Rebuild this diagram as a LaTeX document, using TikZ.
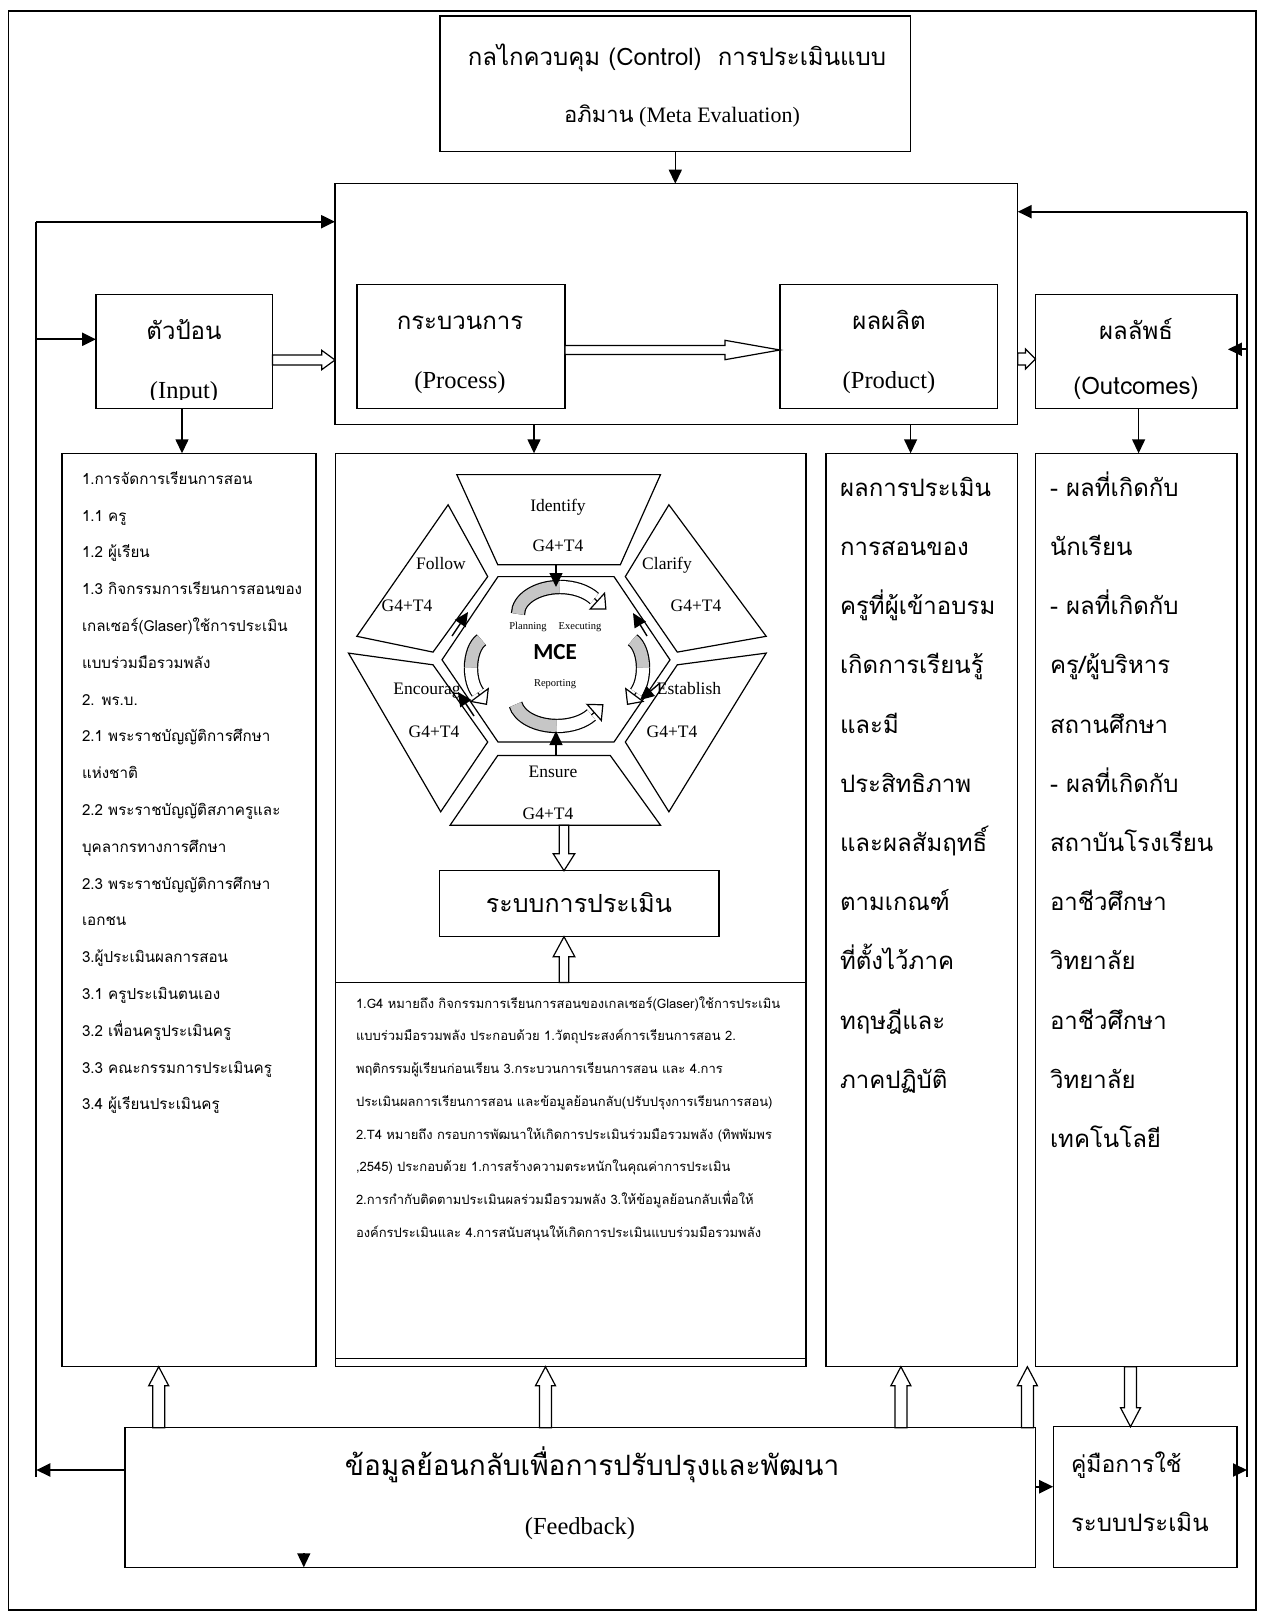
\documentclass[tikz,border=0pt]{standalone}
\usepackage{fontspec}
\setmainfont{Liberation Serif}
\newfontfamily\thaifont[Script=Thai]{Loma}
\newfontfamily\mcefont{Carlito}
\usetikzlibrary{arrows.meta,calc}
\tikzset{
  bx/.style={draw, line width=1.4bp, inner sep=0pt, outer sep=0pt, anchor=north west},
  tx/.style={inner sep=0pt, outer sep=0pt},
  thai/.style={tx, font=\thaifont\fontsize{#1bp}{#1bp}\selectfont},
  ser/.style={tx, font=\fontsize{#1bp}{#1bp}\selectfont},
  arr/.style={-{Triangle[length=14bp,width=13bp]}},
  lp/.style={line width=2.2bp},
  tn/.style={line width=1.4bp},
  hol/.style={line width=1.2bp, fill=white},
  hexs/.style={draw, line width=1.2bp},
  cyc/.style={line width=1.2bp, double distance=12bp},
  cyctip/.style={line width=1.2bp, -{Triangle[length=13bp,width=24bp,fill=white]}},
  hollow/.style n args={3}{to path={
    let \p1=(\tikztostart), \p2=(\tikztotarget),
        \n1={veclen(\x2-\x1,\y2-\y1)},
        \n2={(\x2-\x1)/\n1}, \n3={(\y2-\y1)/\n1}
    in ({\x1-\n3*#1},{\y1+\n2*#1})
    -- ({\x2-\n2*#3-\n3*#1},{\y2-\n3*#3+\n2*#1})
    -- ({\x2-\n2*#3-\n3*#2},{\y2-\n3*#3+\n2*#2})
    -- (\p2)
    -- ({\x2-\n2*#3+\n3*#2},{\y2-\n3*#3-\n2*#2})
    -- ({\x2-\n2*#3+\n3*#1},{\y2-\n3*#3-\n2*#1})
    -- ({\x1+\n3*#1},{\y1-\n2*#1}) -- cycle}}
}
\begin{document}
\begin{tikzpicture}[x=1bp,y=-1bp]
\useasboundingbox (0,0) rectangle (1262,1622);
\draw[line width=1.4bp] (8.5,11) rectangle (1256,1610);

% ---------- boxes
\node[bx, minimum width=470.6bp, minimum height=135.7bp] (ctrl) at (440,16) {};
\node[bx, minimum width=682.7bp, minimum height=240.8bp] (big) at (335,183.7) {};
\node[bx, minimum width=176.4bp, minimum height=114bp] (inp) at (96,294.3) {};
\node[bx, minimum width=207.9bp, minimum height=124bp] (proc) at (357,284.3) {};
\node[bx, minimum width=217.6bp, minimum height=124bp] (prod) at (780,284.3) {};
\node[bx, minimum width=201.4bp, minimum height=114bp] (out) at (1035.5,294.3) {};
\node[bx, minimum width=253.9bp, minimum height=913.4bp] (lc) at (62,453.3) {};
\node[bx, minimum width=470.6bp, minimum height=913.4bp] (mc) at (335.2,453.3) {};
\node[bx, minimum width=191.7bp, minimum height=913.4bp] (pc) at (826,453.3) {};
\node[bx, minimum width=201.4bp, minimum height=913.4bp] (oc) at (1035.5,453.3) {};
\node[bx, minimum width=910.6bp, minimum height=139.6bp] (fb) at (124.9,1427.7) {};
\node[bx, minimum width=183.7bp, minimum height=140.6bp] (man) at (1053.2,1426.7) {};
\node[bx, minimum width=279.7bp, minimum height=66bp] (sys) at (439.3,870.7) {};
\coordinate (dvw) at (335.2,982.5);
\coordinate (dve) at (805.8,982.5);
\draw[line width=1.4bp] (dvw) -- (dve);
\coordinate (dlw) at (335.2,1358.5);
\coordinate (dle) at (805.8,1358.5);
\draw[line width=1.4bp] (dlw) -- (dle);

% ---------- texts in boxes
\node[thai=24, anchor=mid] (ctrlA) at (677,63) {กลไกควบคุม (Control)~ การประเมินแบบ};
\node[tx, anchor=mid] (ctrlB) at (682,120) {{\thaifont\fontsize{22bp}{22bp}\selectfont อภิมาน}{\fontsize{22bp}{22bp}\selectfont\ (Meta Evaluation)}};
\node[thai=24, anchor=mid] (inpA) at (184,337) {ตัวป้อน};
\begin{scope}
\clip (inp.north west) rectangle (272,399);
\node[ser=24.5, anchor=mid] (inpB) at (184,396) {(Input)};
\end{scope}
\node[thai=24, anchor=mid] (procA) at (460,327) {กระบวนการ};
\node[ser=24.5, anchor=mid] (procB) at (460,386) {(Process)};
\node[thai=24, anchor=mid] (prodA) at (889,327) {ผลผลิต};
\node[ser=24.5, anchor=mid] (prodB) at (889,386) {(Product)};
\node[thai=24, anchor=mid] (outA) at (1136,337) {ผลลัพธ์};
\node[thai=24, anchor=mid] (outB) at (1136,392) {(Outcomes)};
\node[thai=25, anchor=mid] (sysT) at (579,910) {ระบบการประเมิน};
\node[thai=28, anchor=mid] (fbA) at (592,1473) {ข้อมูลย้อนกลับเพื่อการปรับปรุงและพัฒนา};
\node[ser=24.5, anchor=mid] (fbB) at (580,1532) {(Feedback)};
\node[thai=23, anchor=mid west] (manA) at (1071,1470) {คู่มือการใช้};
\node[thai=24, anchor=mid west] (manB) at (1071,1529) {ระบบประเมิน};

% left column
\foreach \t [count=\i from 0] in {{1.การจัดการเรียนการสอน},{1.1 ครู},{1.2 ผู้เรียน},{1.3 กิจกรรมการเรียนการสอนของ},{เกลเซอร์(Glaser)ใช้การประเมิน},{แบบร่วมมือรวมพลัง},{2. พร.บ.},{2.1 พระราชบัญญัติการศึกษา},{แห่งชาติ},{2.2 พระราชบัญญัติสภาครูและ},{บุคลากรทางการศึกษา},{2.3 พระราชบัญญัติการศึกษา},{เอกชน},{3.ผู้ประเมินผลการสอน},{3.1 ครูประเมินตนเอง},{3.2 เพื่อนครูประเมินครู},{3.3 คณะกรรมการประเมินครู},{3.4 ผู้เรียนประเมินครู}}
  \node[thai=15.2, anchor=mid west] (l\i) at (82,482+\i*36.8) {\t};
% product column
\foreach \t [count=\i from 0] in {ผลการประเมิน,การสอนของ,ครูที่ผู้เข้าอบรม,เกิดการเรียนรู้,และมี,ประสิทธิภาพ,และผลสัมฤทธิ์,ตามเกณฑ์,ที่ตั้งไว้ภาค,ทฤษฎีและ,ภาคปฏิบัติ}
  \node[thai=24, anchor=mid west] (p\i) at (840,494+\i*59.2) {\t};
% outcomes column
\foreach \t [count=\i from 0] in {- ผลที่เกิดกับ,นักเรียน,- ผลที่เกิดกับ,ครู/ผู้บริหาร,สถานศึกษา,- ผลที่เกิดกับ,สถาบันโรงเรียน,อาชีวศึกษา,วิทยาลัย,อาชีวศึกษา,วิทยาลัย,เทคโนโลยี}
  \node[thai=24, anchor=mid west] (o\i) at (1050,494+\i*59.2) {\t};
% middle text
\foreach \t [count=\i from 0] in {{1.G4 หมายถึง กิจกรรมการเรียนการสอนของเกลเซอร์(Glaser)ใช้การประเมิน},{แบบร่วมมือรวมพลัง ประกอบด้วย 1.วัตถุประสงค์การเรียนการสอน 2.},{พฤติกรรมผู้เรียนก่อนเรียน 3.กระบวนการเรียนการสอน และ 4.การ},{ประเมินผลการเรียนการสอน และข้อมูลย้อนกลับ(ปรับปรุงการเรียนการสอน)},{2.T4 หมายถึง กรอบการพัฒนาให้เกิดการประเมินร่วมมือรวมพลัง (ทิพพัมพร},{,2545) ประกอบด้วย 1.การสร้างความตระหนักในคุณค่าการประเมิน},{2.การกำกับติดตามประเมินผลร่วมมือรวมพลัง 3.ให้ข้อมูลย้อนกลับเพื่อให้},{องค์กรประเมินและ 4.การสนับสนุนให้เกิดการประเมินแบบร่วมมือรวมพลัง}}
  \node[thai=13, anchor=mid west] (m\i) at (356,1006+\i*32.7) {\t};

% ---------- hexagon diagram
\draw[hexs] (456.8,474.6) -- (660.5,474.6) -- (620.3,564.8) -- (497.8,564.8) -- cycle;
\draw[hexs] (498,576.6) -- (614,576.6) -- (670,659.8) -- (614,742) -- (498,742) -- (442,659.8) -- cycle;
\draw[hexs] (448.1,504.8) -- (487.7,576.6) -- (433,652.1) -- (356.8,636.3) -- cycle;
\draw[hexs] (668.9,504.8) -- (766.2,636.3) -- (677.3,652.1) -- (625.3,576.6) -- cycle;
\draw[hexs] (348.5,653.1) -- (433,664.8) -- (487.7,742) -- (440.7,811.8) -- cycle;
\draw[hexs] (766.2,653.1) -- (668.9,811.8) -- (625.3,742) -- (677.3,664.8) -- cycle;
\draw[hexs] (497.8,755.4) -- (610.2,755.4) -- (660.5,825.2) -- (450.1,825.2) -- cycle;

\node[ser=17.5, anchor=mid] (idA) at (558,509) {Identify};
\node[ser=17.5, anchor=mid] (idB) at (558,549) {G4+T4};
\node[ser=17.5, anchor=mid] (foA) at (441,567) {Follow};
\node[ser=17.5, anchor=mid] (foB) at (407,609) {G4+T4};
\node[ser=17.5, anchor=mid] (clA) at (667,567) {Clarify};
\node[ser=17.5, anchor=mid] (clB) at (696,609) {G4+T4};
\node[ser=17.5, anchor=mid] (enA) at (427,692) {Encourag};
\node[ser=17.5, anchor=mid] (enB) at (434,735) {G4+T4};
\node[ser=17.5, anchor=mid] (esA) at (689,692) {Establish};
\node[ser=17.5, anchor=mid] (esB) at (672,735) {G4+T4};
\node[ser=17.5, anchor=mid] (suA) at (553,775) {Ensure};
\node[ser=17.5, anchor=mid] (suB) at (548,817) {G4+T4};
\node[tx, font=\mcefont\bfseries\fontsize{23bp}{23bp}\selectfont, anchor=mid] (mce) at (555,657) {MCE};
\node[ser=10.5, anchor=mid] (pl) at (528,627) {Planning};
\node[ser=10.5, anchor=mid] (ex) at (580,627) {Executing};
\node[ser=10.5, anchor=mid] (rp) at (555,684) {Reporting};

% cycle arrows
\draw[cyc, double=gray!45] (518,614) arc[start angle=180, end angle=270, x radius=42, y radius=27];
\draw[cyc, double=white] (560,587) arc[start angle=270, end angle=325, x radius=42, y radius=27];
\coordinate (t1a) at (594.4,598.5); \coordinate (t1b) at (606.5,609.5);
\draw[cyctip] (t1a) -- (t1b);
\draw[cyc, double=gray!45] (481.5,639.8) arc[start angle=250, end angle=180, x radius=16, y radius=30];
\draw[cyc, double=white] (471,668) arc[start angle=180, end angle=125, x radius=16, y radius=30];
\coordinate (t2a) at (477.8,692.6); \coordinate (t2b) at (487,705);
\draw[cyctip] (t2a) -- (t2b);
\draw[cyc, double=gray!45] (632.5,639.8) arc[start angle=290, end angle=360, x radius=16, y radius=30];
\draw[cyc, double=white] (643,668) arc[start angle=0, end angle=55, x radius=16, y radius=30];
\coordinate (t3a) at (636.2,692.6); \coordinate (t3b) at (627,705);
\draw[cyctip] (t3a) -- (t3b);
\draw[cyc, double=gray!45] (515.6,704.5) arc[start angle=170, end angle=90, x radius=42, y radius=26];
\draw[cyc, double=white] (557,726) arc[start angle=90, end angle=35, x radius=42, y radius=26];
\coordinate (t4a) at (591.4,714.9); \coordinate (t4b) at (603.5,704.2);
\draw[cyctip] (t4a) -- (t4b);

% arrows of the hexagon
\coordinate (idb) at (556,564.8);
\coordinate (idt) at (556,587);
\draw[tn, arr] (idb) -- (idt);
\coordinate (sut) at (556,755.4);
\coordinate (sub) at (556,731);
\draw[tn, arr] (sut) -- (sub);
\coordinate (fo1) at (452,636); \coordinate (fo2) at (468,612);
\draw[tn, arr] (fo1) -- (fo2);
\coordinate (cl1) at (647,636); \coordinate (cl2) at (633,613);
\draw[tn, arr] (cl1) -- (cl2);
\coordinate (en1) at (474,716); \coordinate (en2) at (458,692);
\draw[tn, arr] (en1) -- (en2);
\coordinate (es1) at (660,683); \coordinate (es2) at (640,700);
\draw[tn, arr] (es1) -- (es2);

% ---------- thin arrows
\draw[tn, arr] (ctrl.south) -- (ctrl.south |- big.north);
\draw[tn, arr] (182,0 |- inp.south) -- (182,0 |- lc.north);
\draw[tn, arr] (534,0 |- big.south) -- (534,0 |- mc.north);
\draw[tn, arr] (910.6,0 |- big.south) -- (910.6,0 |- pc.north);
\draw[tn, arr] (1138.6,0 |- out.south) -- (1138.6,0 |- oc.north);

% ---------- loops
\coordinate (L0) at (36.3,1477);
\coordinate (L1) at (36.3,1470);
\coordinate (L2) at (36.3,221.7);
\coordinate (L3) at (36.3,339.3);
\draw[lp] (L0) -- (L2);
\draw[lp, arr] (fb.west |- L1) -- (L1);
\draw[lp, arr] (L2) -- (big.west |- L2);
\draw[lp, arr] (L3) -- (inp.west |- L3);
\coordinate (R0) at (1247,1477);
\coordinate (R1) at (1247,211.7);
\coordinate (R2) at (1247,349.3);
\coordinate (R3) at (1247,1470);
\draw[lp] (R0) -- (R1);
\draw[lp, arr] (R1) -- (big.east |- R1);
\draw[lp, arr, shorten >=-9bp] (R2) -- (out.east |- R2);
\draw[lp, arr] (man.east |- R3) -- (R3);
\coordinate (F1) at (1035.5,1486.7);
\draw[lp, arr] (F1) -- (man.west |- F1);
\coordinate (dn) at (303.8,1553);
\draw[tn, arr] (dn) -- (dn |- fb.south);

% ---------- hollow arrows
\draw[hol] (inp.east |- 0,360) to[hollow={5bp}{9.7bp}{13.3bp}] (big.west |- 0,360);
\draw[hol] (proc.east |- 0,350) to[hollow={4.5bp}{9.7bp}{55bp}] (prod.west |- 0,350);
\draw[hol] (big.east |- 0,359) to[hollow={6bp}{10bp}{10bp}] (out.west |- 0,359);
\draw[hol] (158.7,0 |- fb.north) to[hollow={6bp}{10bp}{19bp}] (158.7,0 |- lc.south);
\draw[hol] (545.5,0 |- fb.north) to[hollow={6bp}{10bp}{19bp}] (545.5,0 |- mc.south);
\draw[hol] (900.9,0 |- fb.north) to[hollow={6bp}{10bp}{19bp}] (900.9,0 |- pc.south);
\draw[hol] (1027.4,0 |- fb.north) to[hollow={6bp}{10bp}{19bp}] (1027.4,0 |- oc.south);
\draw[hol] (1130.5,0 |- oc.south) to[hollow={6bp}{10bp}{19bp}] (1130.5,0 |- man.north);
\coordinate (sua) at (564,825.2);
\draw[hol] (sua) to[hollow={4.7bp}{10.8bp}{17bp}] (sua |- sys.north);
\coordinate (dva) at (564,982.5);
\draw[hol] (dva) to[hollow={4.7bp}{10.8bp}{20bp}] (dva |- sys.south);
\end{tikzpicture}
\end{document}
